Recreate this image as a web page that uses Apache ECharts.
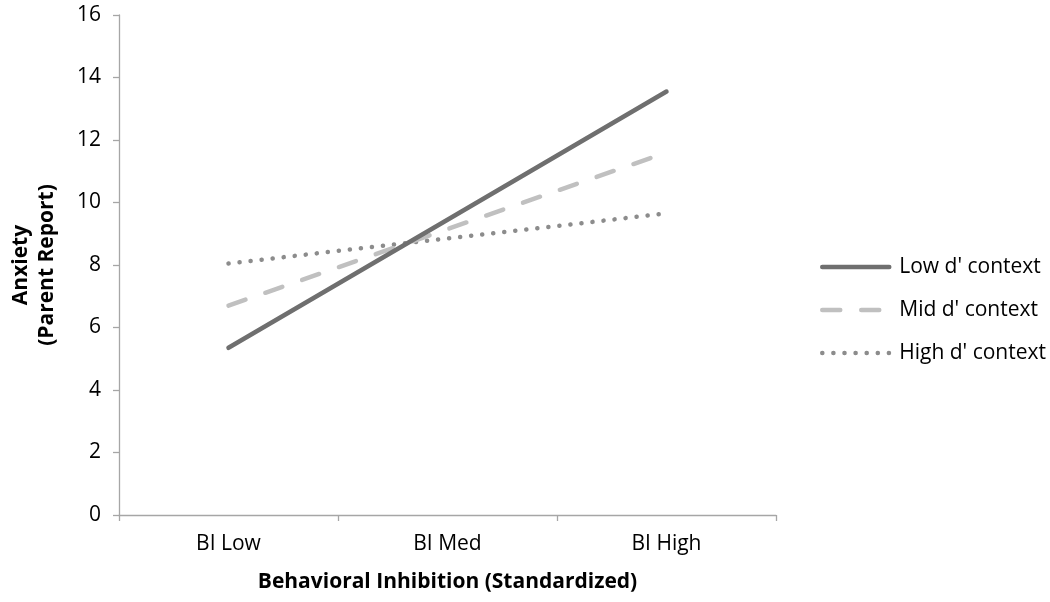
<!DOCTYPE html>
<html><head><meta charset="utf-8">
<script src="https://cdn.jsdelivr.net/npm/echarts@6/dist/echarts.min.js"></script>
<style>html,body{margin:0;padding:0;background:#fff}#c{width:1050px;height:602px}</style>
</head><body><div id="c"></div>
<script>
const categories = ['BI Low', 'BI Med', 'BI High'];
const lowD = [5.35, 9.45, 13.55];
const midD = [6.7, 9.15, 11.6];
const highD = [8.05, 8.85, 9.65];
const seriesNames = ["Low d' context", "Mid d' context", "High d' context"];
const yTicks = [0, 16, 2];

const FONT = 'Open Sans';
const chart = echarts.init(document.getElementById('c'), null, {renderer: 'canvas'});
chart.setOption({
  animation: false,
  backgroundColor: '#fff',
  textStyle: {fontFamily: FONT},
  grid: {left: 118, right: 274, top: 15, bottom: 87, containLabel: false},
  legend: {
    orient: 'vertical', left: 815, top: 251,
    itemWidth: 67, itemHeight: 14, itemGap: 21,
    itemStyle: {opacity: 0},
    lineStyle: {width: 4.5},
    textStyle: {fontFamily: FONT, fontSize: 21, lineHeight: 22, color: '#000', padding: [0, 0, 0, 5]},
    data: seriesNames
  },
  xAxis: {
    type: 'category', data: categories, boundaryGap: true,
    axisLine: {lineStyle: {color: '#a6a6a6', width: 1.3}},
    axisTick: {show: true, length: 6, lineStyle: {color: '#a6a6a6', width: 1.3}},
    axisLabel: {fontFamily: FONT, fontSize: 21, color: '#000', margin: 19},
    name: 'Behavioral Inhibition (Standardized)', nameLocation: 'middle', nameGap: 57,
    nameTextStyle: {fontFamily: FONT, fontSize: 21, fontWeight: 'bold', color: '#000'}
  },
  yAxis: {
    type: 'value', min: yTicks[0], max: yTicks[1], interval: yTicks[2],
    splitLine: {show: false},
    axisLine: {show: true, lineStyle: {color: '#a6a6a6', width: 1.3}},
    axisTick: {show: true, length: 6, lineStyle: {color: '#a6a6a6', width: 1.3}},
    axisLabel: {fontFamily: FONT, fontSize: 21, color: '#000', margin: 18},
    name: 'Anxiety\n(Parent Report)', nameLocation: 'middle', nameGap: 59, nameRotate: 90,
    nameTextStyle: {fontFamily: FONT, fontSize: 21, fontWeight: 'bold', color: '#000', lineHeight: 26}
  },
  series: [
    {name: seriesNames[0], type: 'line', data: lowD, symbol: 'none', z: 3,
     itemStyle: {color: '#6f6f6f'},
     lineStyle: {color: '#6f6f6f', width: 4.5, cap: 'round'}},
    {name: seriesNames[1], type: 'line', data: midD, symbol: 'none', z: 2,
     itemStyle: {color: '#c0c0c0'},
     lineStyle: {color: '#c0c0c0', width: 4.5, type: [18, 21], cap: 'round'}},
    {name: seriesNames[2], type: 'line', data: highD, symbol: 'none', z: 1,
     itemStyle: {color: '#8c8c8c'},
     lineStyle: {color: '#8c8c8c', width: 4.5, type: [0.1, 11], cap: 'round'}}
  ]
});
</script></body></html>
